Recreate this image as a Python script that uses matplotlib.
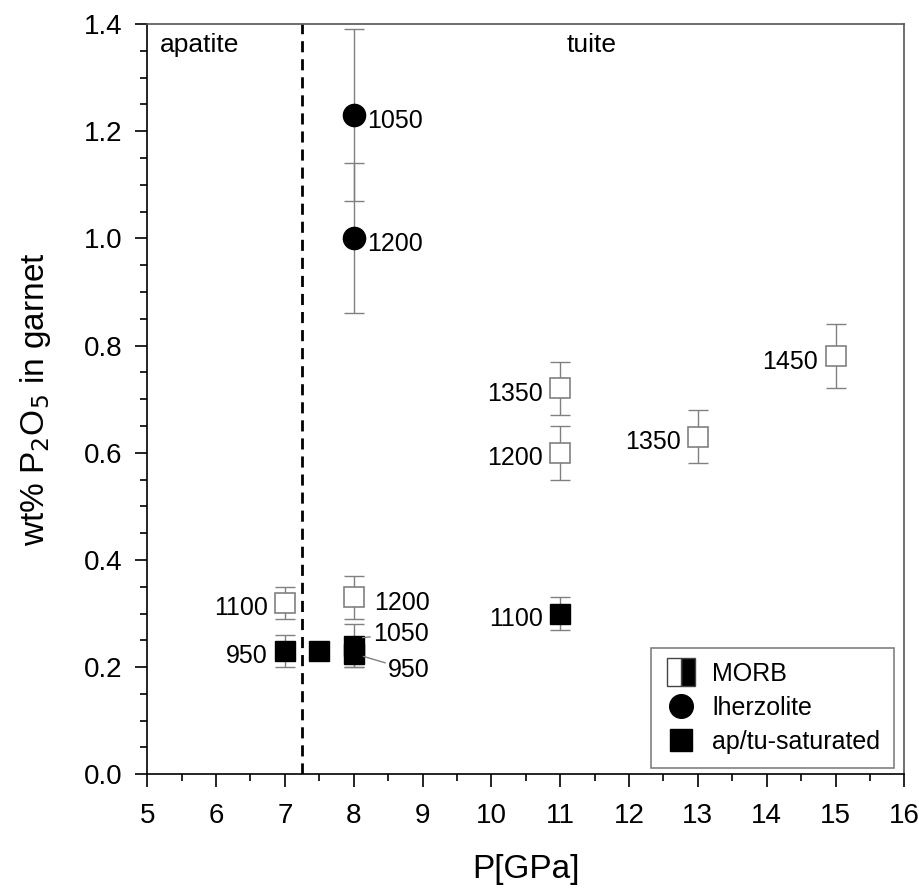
import matplotlib.pyplot as plt
from matplotlib.lines import Line2D
from matplotlib.ticker import MultipleLocator

plt.rcParams['font.family'] = ['Liberation Sans', 'DejaVu Sans']

# MORB, not saturated (open squares)
morb_p = [7, 8, 11, 11, 13, 15]
morb_w = [0.32, 0.33, 0.72, 0.60, 0.63, 0.78]
morb_err = [0.03, 0.04, 0.05, 0.05, 0.05, 0.06]
morb_t = ['1100', '1200', '1350', '1200', '1350', '1450']

# lherzolite (filled circles)
lhz_p = [8, 8]
lhz_w = [1.23, 1.00]
lhz_err = [0.16, 0.14]
lhz_t = ['1050', '1200']

# ap/tu-saturated (filled squares)
sat_p = [7, 7.5, 8, 8, 11]
sat_w = [0.23, 0.23, 0.24, 0.225, 0.30]
sat_err = [0.03, 0.0, 0.04, 0.025, 0.03]
sat_t = ['950', '', '1050', '950', '1100']

grey = '#808080'

fig = plt.figure(figsize=(9.2, 8.91), dpi=100)
ax = fig.add_axes([0.160, 0.131, 0.823, 0.842])

# error bars first, markers on top
ax.errorbar(morb_p, morb_w, yerr=morb_err, fmt='none', ecolor=grey, elinewidth=1, capsize=7, capthick=1, zorder=2)
ax.errorbar(lhz_p, lhz_w, yerr=lhz_err, fmt='none', ecolor=grey, elinewidth=1, capsize=7, capthick=1, zorder=2)
sat_mask = [e > 0 for e in sat_err]
ax.errorbar([p for p, m in zip(sat_p, sat_mask) if m], [w for w, m in zip(sat_w, sat_mask) if m],
            yerr=[e for e, m in zip(sat_err, sat_mask) if m], fmt='none', ecolor=grey,
            elinewidth=1, capsize=7, capthick=1, zorder=2)

ax.plot(morb_p, morb_w, 's', ms=14, mfc='white', mec=grey, mew=1.2, ls='none', zorder=3)
ax.plot(lhz_p, lhz_w, 'o', ms=16, mfc='black', mec='black', ls='none', zorder=3)
ax.plot(sat_p, sat_w, 's', ms=14.5, mfc='black', mec='black', ls='none', zorder=3)

# temperature labels
fs = 18
for p, w, t in zip(morb_p, morb_w, morb_t):
    if p == 8:
        ax.text(p + 0.3, w - 0.01, t, fontsize=fs, ha='left', va='center')
    else:
        ax.text(p - 0.25, w - 0.01, t, fontsize=fs, ha='right', va='center')
for p, w, t in zip(lhz_p, lhz_w, lhz_t):
    ax.text(p + 0.2, w - 0.01, t, fontsize=fs, ha='left', va='center')
ax.text(sat_p[0] - 0.25, sat_w[0] - 0.01, sat_t[0], fontsize=fs, ha='right', va='center')
ax.text(sat_p[4] - 0.25, sat_w[4] - 0.01, sat_t[4], fontsize=fs, ha='right', va='center')
ax.annotate(sat_t[2], xy=(sat_p[2] + 0.13, sat_w[2] + 0.015), xytext=(8.28, 0.262),
            fontsize=fs, ha='left', va='center',
            arrowprops=dict(arrowstyle='-', color=grey, lw=1, shrinkA=0, shrinkB=0))
ax.annotate(sat_t[3], xy=(sat_p[3] + 0.14, sat_w[3] - 0.005), xytext=(8.5, 0.195),
            fontsize=fs, ha='left', va='center',
            arrowprops=dict(arrowstyle='-', color=grey, lw=1, shrinkA=0, shrinkB=0))

# apatite / tuite boundary
ax.axvline(7.25, color='black', lw=2, ls=(0, (4, 2.5)), zorder=1)
ax.text(5.18, 1.36, 'apatite', fontsize=19, ha='left', va='center')
ax.text(11.1, 1.36, 'tuite', fontsize=19, ha='left', va='center')

ax.set_xlim(5, 16)
ax.set_ylim(0, 1.4)
ax.xaxis.set_major_locator(MultipleLocator(1))
ax.xaxis.set_minor_locator(MultipleLocator(0.5))
ax.yaxis.set_major_locator(MultipleLocator(0.2))
ax.yaxis.set_minor_locator(MultipleLocator(0.05))
ax.yaxis.set_major_formatter(plt.FuncFormatter(lambda v, _: f'{v:.1f}'))
ax.tick_params(which='major', direction='out', length=9, width=1.2, labelsize=20, pad=9)
ax.tick_params(axis='x', which='major', pad=12)
ax.tick_params(which='minor', direction='out', length=5, width=1.2)
for s in ax.spines.values():
    s.set_linewidth(1.2)
ax.spines['top'].set_color('#555555')
ax.spines['right'].set_color('#555555')

ax.set_xlabel('P[GPa]', fontsize=24, labelpad=18)
ax.set_ylabel('wt% P$_2$O$_5$ in garnet', fontsize=24, labelpad=22)

handles = [
    Line2D([], [], marker='s', ls='none', ms=20, mfc='black', mfcalt='white', fillstyle='right', mec='#444444'),
    Line2D([], [], marker='o', ls='none', ms=17, mfc='black', mec='black'),
    Line2D([], [], marker='s', ls='none', ms=16, mfc='black', mec='black'),
]
leg = ax.legend(handles, ['MORB', 'lherzolite', 'ap/tu-saturated'], loc='lower right',
                bbox_to_anchor=(0.986, 0.009), fontsize=18, fancybox=False, framealpha=1,
                handlelength=1.3, handletextpad=0.6, borderpad=0.55, labelspacing=0.4,
                borderaxespad=0)
leg.get_frame().set_edgecolor(grey)
leg.get_frame().set_linewidth(1.2)

fig.savefig('out.png', dpi=100)
